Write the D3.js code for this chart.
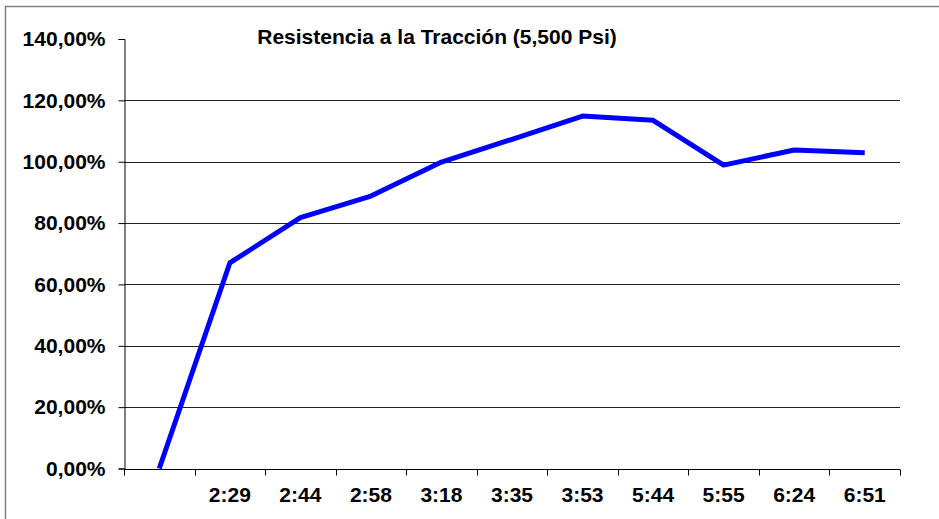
<!DOCTYPE html>
<html>
<head>
<meta charset="utf-8">
<script src="https://cdn.jsdelivr.net/npm/d3@7"></script>
<style>
  body { margin: 0; background: #fff; }
  svg text { font-family: Arial, "Liberation Sans", sans-serif; font-weight: bold; }
</style>
</head>
<body>
<svg id="chart" width="939" height="519"></svg>
<script>
// chart data
var categories = ['', '2:29', '2:44', '2:58', '3:18', '3:35', '3:53', '5:44', '5:55', '6:24', '6:51'];
var resistencia = [0, 67.0, 81.8, 88.8, 99.9, 107.3, 114.9, 113.5, 98.9, 103.8, 102.9];
var yTicks = [0, 20, 40, 60, 80, 100, 120, 140];
var chartTitle = 'Resistencia a la Tracción (5,500 Psi)';

var svg = d3.select('#chart');
var plot = { left: 124, right: 900, top: 39, bottom: 468.5 };
var fontSize = 21;

//outer frame, runs off the right and bottom edge
svg.append('rect')
  .attr('x', 5.5).attr('y', 6.5)
  .attr('width', 960).attr('height', 540)
  .attr('fill', 'none')
  .attr('stroke', '#808080')
  .attr('stroke-width', 1.5);

var x = d3.scaleBand()
  .domain(d3.range(categories.length))
  .range([plot.left, plot.right]);

var y = d3.scaleLinear()
  .domain([0, 140])
  .range([plot.bottom, plot.top]);

var fmt = function (d) { return d.toFixed(2).replace('.', ',') + '%'; };

// grid lines
svg.append('g')
  .selectAll('line')
  .data(yTicks.filter(function (d) { return d > 0 && d < 140; }))
  .enter()
  .append('line')
  .attr('x1', plot.left).attr('x2', plot.right)
  .attr('y1', function (d) { return Math.round(y(d)) + 0.5; })
  .attr('y2', function (d) { return Math.round(y(d)) + 0.5; })
  .attr('stroke', '#222')
  .attr('stroke-width', 1);

// y axis
var yAxis = svg.append('g')
  .attr('transform', 'translate(' + (plot.left + 0.5) + ',0)')
  .call(d3.axisLeft(y).tickValues(yTicks).tickFormat(fmt).tickSize(6).tickPadding(13));
yAxis.selectAll('.tick line').attr('stroke', '#000');
yAxis.select('.domain').attr('stroke', '#000');
yAxis.selectAll('.tick text')
  .attr('font-size', fontSize)
  .attr('font-family', 'Arial, "Liberation Sans", sans-serif')
  .attr('fill', '#000');

// x axis, ticks sit between categories
var xAxisG = svg.append('g')
  .attr('transform', 'translate(0,' + (Math.round(plot.bottom) + 0.5) + ')');
xAxisG.append('line')
  .attr('x1', plot.left).attr('x2', plot.right)
  .attr('stroke', '#000');
xAxisG.selectAll('.xtick')
  .data(d3.range(categories.length + 1))
  .enter()
  .append('line')
  .attr('class', 'xtick')
  .attr('x1', function (d) { return Math.round(plot.left + d * x.step()) + 0.5; })
  .attr('x2', function (d) { return Math.round(plot.left + d * x.step()) + 0.5; })
  .attr('y1', 0).attr('y2', 6)
  .attr('stroke', '#000');
xAxisG.selectAll('.xlabel')
  .data(categories)
  .enter()
  .append('text')
  .attr('class', 'xlabel')
  .attr('x', function (d, i) { return x(i) + x.bandwidth() / 2; })
  .attr('y', 32)
  .attr('text-anchor', 'middle')
  .attr('font-size', fontSize)
  .text(function (d) { return d; });

// the series line
var line = d3.line()
  .x(function (d, i) { return x(i) + x.bandwidth() / 2; })
  .y(function (d) { return y(d); });

svg.append('path')
  .datum(resistencia)
  .attr('d', line)
  .attr('fill', 'none')
  .attr('stroke', '#0000ff')
  .attr('stroke-width', 5)
  .attr('stroke-linejoin', 'round');

// title
svg.append('text')
  .attr('x', 437)
  .attr('y', 44)
  .attr('text-anchor', 'middle')
  .attr('font-size', fontSize)
  .text(chartTitle);
</script>
</body>
</html>
